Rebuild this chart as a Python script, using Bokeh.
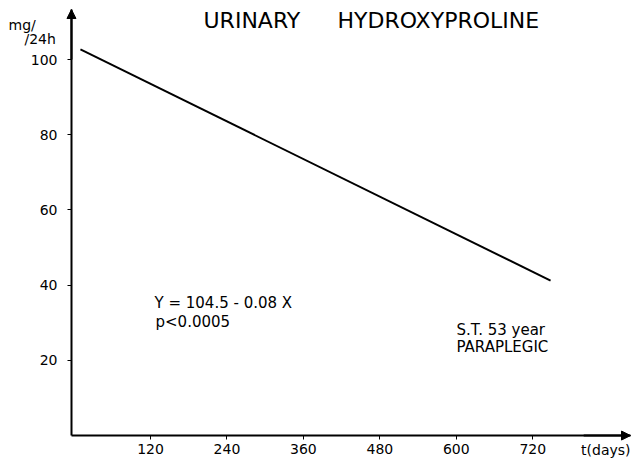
from bokeh.plotting import figure
from bokeh.models import Label, Arrow, NormalHead, FixedTicker
from bokeh.embed import file_html
from bokeh.resources import INLINE

# data
days = [10, 748]
hydroxyproline = [102.7, 41.2]
x_ticks = [120, 240, 360, 480, 600, 720]
y_ticks = [20, 40, 60, 80, 100]

FONT = "DejaVu Sans"
W, H = 632, 464
X0, X1 = -115.5, 876.6
Y0, Y1 = -7.7, 115.7
AXIS_X = -4.1       # x where the vertical axis sits
X_TIP = 873.5       # end of horizontal axis arrow
Y_TIP = 113.3       # end of vertical axis arrow

p = figure(width=W, height=H, output_backend="svg", toolbar_location=None,
           x_range=(X0, X1), y_range=(Y0, Y1),
           min_border=0, background_fill_color="white",
           border_fill_color="white")
p.outline_line_color = None
p.xgrid.visible = False
p.ygrid.visible = False

for ax in (p.xaxis[0], p.yaxis[0]):
    ax.axis_line_width = 2
    ax.axis_line_color = "black"
    ax.major_tick_line_color = "black"
    ax.major_tick_line_width = 1
    ax.major_tick_in = 0
    ax.major_tick_out = 4
    ax.minor_tick_line_color = None
    ax.major_label_text_font = FONT
    ax.major_label_text_font_size = "14px"
    ax.major_label_text_color = "black"

p.xaxis[0].ticker = FixedTicker(ticks=x_ticks)
p.yaxis[0].ticker = FixedTicker(ticks=y_ticks)
p.xaxis[0].fixed_location = 0
p.yaxis[0].fixed_location = AXIS_X
p.xaxis[0].bounds = (AXIS_X, X_TIP)
p.yaxis[0].bounds = (0, Y_TIP)
p.xaxis[0].major_label_standoff = 4
p.yaxis[0].major_label_standoff = 10

p.line(days, hydroxyproline, line_color="black", line_width=2)

# axis arrow heads
p.add_layout(Arrow(end=NormalHead(size=9, fill_color="black", line_color="black"),
                   x_start=AXIS_X, y_start=100, x_end=AXIS_X, y_end=Y_TIP,
                   line_color="black", line_width=2))
p.add_layout(Arrow(end=NormalHead(size=9, fill_color="black", line_color="black"),
                   x_start=800, y_start=0, x_end=X_TIP, y_end=0,
                   line_color="black", line_width=2))

def lab(x, y, t, size="14px", align="left"):
    # x, y are page pixel positions (y measured from the top)
    p.add_layout(Label(x=x, y=H - y, x_units="screen", y_units="screen", text=t,
                       text_font=FONT, text_font_size=size, text_color="black",
                       text_align=align, text_baseline="middle"))

lab(203, 20, "URINARY", "22px")
lab(337, 20, "HYDROXYPROLINE", "22px")
lab(154, 302, "Y = 104.5 - 0.08 X", "15px")
lab(155, 321, "p<0.0005", "15px")
lab(456, 329, "S.T. 53 year", "15px")
lab(456, 346, "PARAPLEGIC", "15px")
lab(8, 24, "mg/", "14px")
lab(24, 38, "/24h", "14px")
lab(630, 449, "t(days)", "14px", "right")

open("out.html", "w").write(file_html(p, INLINE))
